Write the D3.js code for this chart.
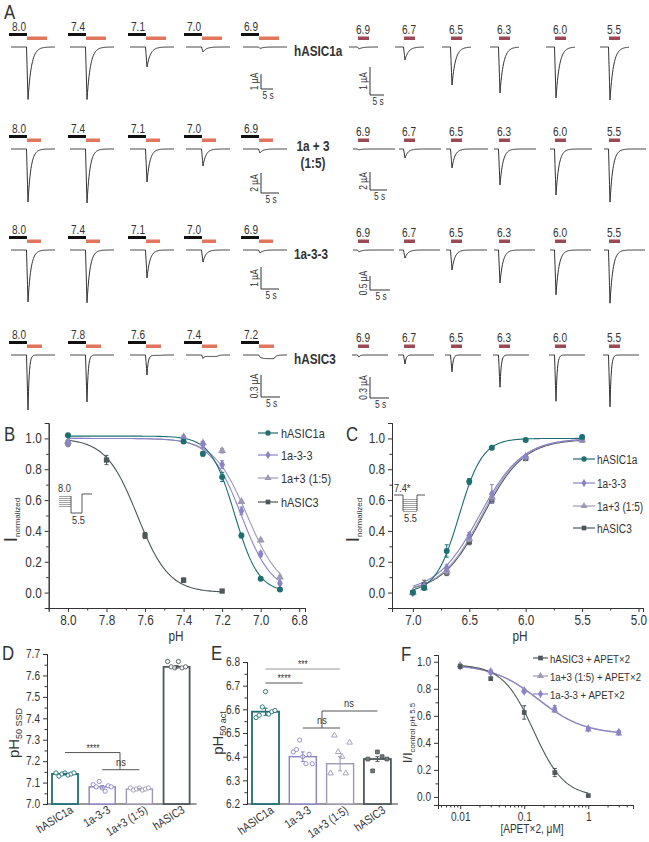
<!DOCTYPE html>
<html>
<head>
<meta charset="utf-8">
<script src="https://cdn.jsdelivr.net/npm/d3@7"></script>
<style>
  body { margin: 0; background: #fff; }
  text { font-family: 'Liberation Sans', Arial, sans-serif; fill: #333; }
</style>
</head>
<body>
<svg id="fig" width="649" height="842"></svg>
<script>
// ---------- Panel A: current traces (peak amplitudes in uA) ----------
var rowNames = ["hASIC1a", "1a + 3|(1:5)", "1a-3-3", "hASIC3"];
var leftPH = [
    ["8.0", "7.4", "7.1", "7.0", "6.9"],
    ["8.0", "7.4", "7.1", "7.0", "6.9"],
    ["8.0", "7.4", "7.1", "7.0", "6.9"],
    ["8.0", "7.8", "7.6", "7.4", "7.2"]
];
var rightPH = ["6.9", "6.7", "6.5", "6.3", "6.0", "5.5"];
var leftPeaks = [
    [3.5, 3.5, 1.33, 0.33, 0.1],
    [5.3, 5.4, 3.3, 1.7, 0.4],
    [2.36, 2.4, 1.27, 0.55, 0.14],
    [0.75, 0.64, 0.27, 0.04, 0.01]
];
var leftSustained = [
    [0, 0, 0, 0, 0],
    [0, 0, 0, 0, 0],
    [0, 0, 0, 0, 0],
    [0, 0, 0.005, 0.02, 0.05]
];
var rightPeaks = [
    [0.07, 0.46, 1.36, 1.64, 1.82, 1.89],
    [0.1, 1.0, 2.1, 4.0, 5.1, 5.9],
    [0.07, 0.29, 0.71, 1.18, 1.6, 1.9],
    [0.03, 0.13, 0.24, 0.46, 0.66, 0.74]
];
var leftScaleVal = [1, 2, 1, 0.3];
var rightScaleVal = [1, 2, 0.5, 0.3];
var leftScaleText = ["1 µA", "2 µA", "1 µA", "0.3 µA"];
var rightScaleText = ["1 µA", "2 µA", "0.5 µA", "0.3 µA"];

// ---------- Panel B: steady-state desensitization ----------
var phB = [8.0, 7.4, 7.3, 7.2, 7.1, 7.0, 6.9];
var phB3 = [8.0, 7.8, 7.6, 7.4, 7.2];
var ssd1a = [1.02, 0.98, 0.90, 0.75, 0.37, 0.09, 0.02];
var ssd133 = [0.97, 1.00, 0.96, 0.83, 0.53, 0.25, 0.06];
var ssd13 = [0.98, 1.01, 0.97, 0.92, 0.59, 0.34, 0.10];
var ssd3 = [0.97, 0.86, 0.37, 0.08, 0.01];
var ssdErr1a = [0.01, 0.01, 0.015, 0.03, 0.015, 0.01, 0.01];
var ssdErr133 = [0.01, 0.01, 0.02, 0.025, 0.025, 0.015, 0.01];
var ssdErr13 = [0.01, 0.01, 0.01, 0.015, 0.01, 0.01, 0.01];
var ssdErr3 = [0.02, 0.03, 0.02, 0.015, 0.01];
// fit parameters: [top, pH50, nH]
var ssdFit = { "hASIC1a": [1.015, 7.135, 7], "1a-3-3": [1.0, 7.10, 5.5], "1a+3 (1:5)": [1.0, 7.07, 5], "hASIC3": [1.0, 7.64, 5.3] };

// ---------- Panel C: activation ----------
var phC = [7.0, 6.9, 6.7, 6.5, 6.3, 6.0, 5.5];
var act1a = [0.0, 0.03, 0.27, 0.72, 0.94, 0.99, 1.01];
var act133 = [0.0, 0.04, 0.16, 0.37, 0.64, 0.88, 1.0];
var act13 = [0.0, 0.03, 0.14, 0.35, 0.62, 0.88, 0.99];
var act3 = [0.0, 0.05, 0.13, 0.33, 0.60, 0.87, 0.99];
var actErr1a = [0.005, 0.01, 0.04, 0.02, 0.01, 0.005, 0.01];
var actErr133 = [0.005, 0.01, 0.02, 0.02, 0.06, 0.01, 0.01];
var actErr13 = [0.005, 0.01, 0.02, 0.02, 0.02, 0.01, 0.01];
var actErr3 = [0.005, 0.03, 0.02, 0.02, 0.02, 0.01, 0.01];
var actFit = { "hASIC1a": [1.0, 6.59, 4.2], "1a-3-3": [1.0, 6.41, 2.3], "1a+3 (1:5)": [1.0, 6.39, 2.4], "hASIC3": [0.995, 6.38, 2.4] };

// ---------- Panel D / E: pH50 bars ----------
var groups = ["hASIC1a", "1a-3-3", "1a+3 (1:5)", "hASIC3"];
var ssdBars = [7.14, 7.08, 7.07, 7.64];
var ssdSem = [0.003, 0.006, 0.003, 0.006];
var ssdPts = [
    [7.145, 7.130, 7.140, 7.145, 7.135, 7.140, 7.145],
    [7.090, 7.080, 7.105, 7.075, 7.060, 7.085, 7.080],
    [7.075, 7.065, 7.070, 7.075, 7.065, 7.070, 7.075],
    [7.665, 7.640, 7.635, 7.665, 7.635, 7.640]
];
var actBars = [6.59, 6.40, 6.37, 6.39];
var actSem = [0.015, 0.02, 0.03, 0.01];
var actPts = [
    [6.565, 6.575, 6.61, 6.675, 6.58, 6.59, 6.595],
    [6.42, 6.43, 6.47, 6.40, 6.37, 6.41, 6.37],
    [6.33, 6.49, 6.42, 6.40, 6.33, 6.46],
    [6.39, 6.34, 6.42, 6.40, 6.39]
];

// ---------- Panel F: APETx2 inhibition ----------
var concF = [0.01, 0.03, 0.1, 0.3, 1, 3];
var apet3 = [0.965, 0.875, 0.625, 0.18, 0.01];
var apet13 = [0.975, 0.93, 0.79, 0.64, 0.50, 0.47];
var apet133 = [0.965, 0.92, 0.78, 0.655, 0.505, 0.48];
var apetErr3 = [0.01, 0.01, 0.05, 0.03, 0.005];
var apetErr13 = [0.01, 0.01, 0.01, 0.015, 0.01, 0.01];
var apetErr133 = [0.01, 0.01, 0.01, 0.02, 0.01, 0.01];
// [top, bottom, IC50, n]
var apetFit = { "hASIC3": [0.98, 0.0, 0.14, 1.8], "1a+3 (1:5)": [0.985, 0.465, 0.16, 1.2], "1a-3-3": [0.98, 0.46, 0.17, 1.2] };

var colors = { "hASIC1a": "#1f6e72", "1a-3-3": "#8a83c6", "1a+3 (1:5)": "#9e9ab4", "hASIC3": "#4e585b" };
var shapes = { "hASIC1a": d3.symbolCircle, "1a-3-3": d3.symbolDiamond, "1a+3 (1:5)": d3.symbolTriangle, "hASIC3": d3.symbolSquare };

var svg = d3.select("#fig");
var line = d3.line();

function txt(g, x, y, s, size, anchor) {
    return g.append("text").attr("x", x).attr("y", y).attr("font-size", size)
        .attr("text-anchor", anchor || "start").text(s);
}

function styleAxis(g, size) {
    g.select(".domain").attr("stroke", "#333");
    g.selectAll(".tick line").attr("stroke", "#333");
    g.selectAll(".tick text").attr("font-size", size).attr("fill", "#333")
        .attr("font-family", "'Liberation Sans', Arial, sans-serif");
}

function marker(g, name, x, y, size) {
    g.append("path").attr("d", d3.symbol().type(shapes[name]).size(size || 28)())
        .attr("transform", "translate(" + x + "," + y + ")")
        .attr("fill", colors[name]);
}

function errBar(g, x, y0, y1, color) {
    g.append("line").attr("x1", x).attr("x2", x).attr("y1", y0).attr("y2", y1).attr("stroke", color);
    g.append("line").attr("x1", x - 2).attr("x2", x + 2).attr("y1", y0).attr("y2", y0).attr("stroke", color);
    g.append("line").attr("x1", x - 2).attr("x2", x + 2).attr("y1", y1).attr("y2", y1).attr("stroke", color);
}

function label(g, x, y, s) {
    txt(g, x, y, s, 20).attr("fill", "#222");
}

// ================= Panel A =================
var aG = svg.append("g");
label(aG, 4, 19, "A");
var rowBase = [47, 149, 250, 355];
var leftBarX = [9, 68, 128, 184, 241];
var rightBarX = [358, 404, 451, 499, 555, 609];
var rightSpan = [[-9, 20], [-5, 37], [-5, 36], [-6, 30]];
var orangeW = [20, 14, 14, 15];
var tauRow = [3.5, 3, 3, 1.2];
var leftBarLen = [15, 20, 22, 22], rightBarLen = [28, 18, 14, 21];
var leftBarBot = [42, 44, 39, 42], rightBarBot = [48, 41, 40, 43];
var leftTimeLen = [12, 18, 18, 19], rightTimeLen = [14, 17, 20, 19];

function tracePath(x0, x1, xp, depth, rise, tau, sus, s0, s1) {
    var pts = [];
    for (var x = x0; x <= x1; x += 0.5) {
        var y = 0;
        if (x >= xp - rise && x < xp) y = depth * (x - xp + rise) / rise;
        else if (x >= xp) y = depth * Math.exp(-(x - xp) / tau);
        if (sus > 0 && x >= s0) {
            var on = 1 - Math.exp(-(x - s0) / 2);
            if (x > s1) on = on * Math.exp(-(x - s1) / 2);
            y += sus * on;
        }
        pts.push([x, y]);
    }
    return pts;
}

function scaleBar(g, x, bottom, len, tlen, utext) {
    g.append("path").attr("d", line([[x, bottom - len], [x, bottom], [x + tlen, bottom]]))
        .attr("fill", "none").attr("stroke", "#333");
    g.append("text").attr("transform", "translate(" + (x - 3) + "," + (bottom - len / 2) + ") rotate(-90)")
        .attr("text-anchor", "middle").attr("font-size", 10).text(utext);
    txt(g, x + tlen / 2 + 1, bottom + 10, "5 s", 10, "middle");
}

rowNames.forEach(function (name, r) {
    var base = rowBase[r];
    var ampL = d3.scaleLinear().domain([0, leftScaleVal[r]]).range([0, leftBarLen[r]]);
    var ampR = d3.scaleLinear().domain([0, rightScaleVal[r]]).range([0, rightBarLen[r]]);

    leftPH[r].forEach(function (ph, c) {
        var bx = leftBarX[c];
        txt(aG, bx + 3, base - 16, ph, 12);
        aG.append("rect").attr("x", bx).attr("y", base - 14).attr("width", 18).attr("height", 3).attr("fill", "#111");
        aG.append("rect").attr("x", bx + 18).attr("y", base - 10.5).attr("width", orangeW[r]).attr("height", 3.5)
            .attr("fill", "#e0775c");
        var pts = tracePath(bx + 2, bx + 46, bx + 19, ampL(leftPeaks[r][c]), 1.5, tauRow[r],
            ampL(leftSustained[r][c]), bx + 18, bx + 18 + orangeW[r]);
        aG.append("path").attr("d", line(pts.map(function (p) { return [p[0], base + p[1]]; })))
            .attr("fill", "none").attr("stroke", "#333").attr("stroke-width", 1);
    });

    rightPH.forEach(function (ph, c) {
        var bx = rightBarX[c];
        txt(aG, bx + 5, base - 13, ph, 12, "middle");
        aG.append("rect").attr("x", bx).attr("y", base - 10.5).attr("width", 11).attr("height", 3.5).attr("fill", "#9b4a55");
        var pts = tracePath(bx + rightSpan[r][0], bx + rightSpan[r][1], bx + 1, ampR(rightPeaks[r][c]), 1.5,
            tauRow[r], 0, 0, 0);
        aG.append("path").attr("d", line(pts.map(function (p) { return [p[0], base + p[1]]; })))
            .attr("fill", "none").attr("stroke", "#333").attr("stroke-width", 1);
    });

    scaleBar(aG, 261, base + leftBarBot[r], leftBarLen[r], leftTimeLen[r], leftScaleText[r]);
    scaleBar(aG, 370, base + rightBarBot[r], rightBarLen[r], rightTimeLen[r], rightScaleText[r]);

    var parts = name.split("|");
    if (parts.length > 1) {
        txt(aG, 313, base + 2, parts[0], 14, "middle").attr("font-weight", "bold").attr("fill", "#222");
        txt(aG, 313, base + 19, parts[1], 14, "middle").attr("font-weight", "bold").attr("fill", "#222");
    } else {
        txt(aG, 294, base + 9, name, 14).attr("font-weight", "bold").attr("fill", "#222");
    }
});

// ================= helpers for curve panels =================
function curvePanel(g, x, y, xMajor, xMinor, yMajor, yMinor, xAxisY, yAxisX, fsize, xfmt) {
    var ax = g.append("g").attr("transform", "translate(0," + xAxisY + ")")
        .call(d3.axisBottom(x).tickValues(xMajor).tickFormat(xfmt).tickSizeOuter(0).tickSize(4).tickPadding(3));
    styleAxis(ax, fsize);
    var axm = g.append("g").attr("transform", "translate(0," + xAxisY + ")")
        .call(d3.axisBottom(x).tickValues(xMinor).tickFormat("").tickSizeOuter(0).tickSize(2.5));
    styleAxis(axm, fsize);
    var ay = g.append("g").attr("transform", "translate(" + yAxisX + ",0)")
        .call(d3.axisLeft(y).tickValues(yMajor).tickFormat(d3.format(".1f")).tickSizeOuter(0).tickSize(4).tickPadding(3));
    styleAxis(ay, fsize);
    var aym = g.append("g").attr("transform", "translate(" + yAxisX + ",0)")
        .call(d3.axisLeft(y).tickValues(yMinor).tickFormat("").tickSizeOuter(0).tickSize(2.5));
    styleAxis(aym, fsize);
}

function legendRow(g, x0, x1, tx, yy, name, text, size) {
    g.append("line").attr("x1", x0).attr("x2", x1).attr("y1", yy).attr("y2", yy)
        .attr("stroke", colors[name]).attr("stroke-width", 1.2);
    marker(g, name, (x0 + x1) / 2, yy, 22);
    txt(g, tx, yy + 4.5, text, size);
}

function yTitle(g, x, y, main, sub, mainSize, subSize) {
    var t = g.append("text").attr("transform", "translate(" + x + "," + y + ") rotate(-90)")
        .attr("text-anchor", "middle");
    t.append("tspan").attr("font-size", mainSize).text(main);
    t.append("tspan").attr("font-size", subSize).attr("dy", 3).text(sub);
}

function stairs(g, x0, x1, y0, n, gap) {
    d3.range(n).forEach(function (i) {
        g.append("line").attr("x1", x0).attr("x2", x1).attr("y1", y0 + gap * i + 0.5).attr("y2", y0 + gap * i + 0.5)
            .attr("stroke", "#666").attr("stroke-width", 0.6);
    });
}

// ================= Panel B =================
var bG = svg.append("g");
label(bG, 4, 441, "B");
var xB = d3.scaleLinear().domain([8.1, 6.77]).range([48.7, 305]);
var yB = d3.scaleLinear().domain([-0.1, 1.1]).range([608, 423]);
curvePanel(bG, xB, yB, [8.0, 7.8, 7.6, 7.4, 7.2, 7.0, 6.8], [7.9, 7.7, 7.5, 7.3, 7.1, 6.9],
    [0, 0.2, 0.4, 0.6, 0.8, 1.0], [-0.1, 0.1, 0.3, 0.5, 0.7, 0.9, 1.1], 608, 48.7, 14, d3.format(".1f"));
txt(bG, 176, 641, "pH", 14, "middle");
yTitle(bG, 17, 520, "I", "normalized", 19, 8);

var bSeries = [
    ["hASIC3", phB3, ssd3, ssdErr3],
    ["1a+3 (1:5)", phB, ssd13, ssdErr13],
    ["1a-3-3", phB, ssd133, ssdErr133],
    ["hASIC1a", phB, ssd1a, ssdErr1a]
];
bSeries.forEach(function (s) {
    var p = ssdFit[s[0]];
    var xs = d3.range(d3.max(s[1]), d3.min(s[1]) - 0.001, -0.01);
    var pts = xs.map(function (ph) { return [xB(ph), yB(p[0] / (1 + Math.pow(10, p[2] * (p[1] - ph))))]; });
    bG.append("path").attr("d", line(pts)).attr("fill", "none").attr("stroke", colors[s[0]]).attr("stroke-width", 1.1);
});
bSeries.forEach(function (s) {
    s[1].forEach(function (ph, i) {
        errBar(bG, xB(ph), yB(s[2][i] + s[3][i]), yB(s[2][i] - s[3][i]), colors[s[0]]);
        marker(bG, s[0], xB(ph), yB(s[2][i]));
    });
});
legendRow(bG, 258, 278, 281, 433, "hASIC1a", "hASIC1a", 13);
legendRow(bG, 258, 278, 281, 455, "1a-3-3", "1a-3-3", 13);
legendRow(bG, 258, 278, 281, 478, "1a+3 (1:5)", "1a+3 (1:5)", 13);
legendRow(bG, 258, 278, 281, 502, "hASIC3", "hASIC3", 13);

// inset protocol B
txt(bG, 58, 492, "8.0", 11);
stairs(bG, 59, 71, 496, 6, 2);
bG.append("path").attr("d", line([[71, 496], [71, 513], [82, 513], [82, 494], [92, 494]]))
    .attr("fill", "none").attr("stroke", "#444").attr("stroke-width", 0.9);
txt(bG, 72, 524, "5.5", 11);

// ================= Panel C =================
var cG = svg.append("g");
label(cG, 346, 441, "C");
var xC = d3.scaleLinear().domain([7.185, 4.96]).range([392, 643]);
var yC = d3.scaleLinear().domain([-0.1, 1.1]).range([608, 423]);
curvePanel(cG, xC, yC, [7.0, 6.5, 6.0, 5.5, 5.0], [6.75, 6.25, 5.75, 5.25],
    [0, 0.2, 0.4, 0.6, 0.8, 1.0], [-0.1, 0.1, 0.3, 0.5, 0.7, 0.9, 1.1], 608, 392, 14, d3.format(".1f"));
txt(cG, 520, 641, "pH", 14, "middle");
yTitle(cG, 359, 520, "I", "normalized", 19, 8);

var cSeries = [
    ["hASIC3", act3, actErr3],
    ["1a+3 (1:5)", act13, actErr13],
    ["1a-3-3", act133, actErr133],
    ["hASIC1a", act1a, actErr1a]
];
cSeries.forEach(function (s) {
    var p = actFit[s[0]];
    var xs = d3.range(7.0, 5.499, -0.01);
    var pts = xs.map(function (ph) { return [xC(ph), yC(p[0] / (1 + Math.pow(10, p[2] * (ph - p[1]))))]; });
    cG.append("path").attr("d", line(pts)).attr("fill", "none").attr("stroke", colors[s[0]]).attr("stroke-width", 1.1);
});
cSeries.forEach(function (s) {
    phC.forEach(function (ph, i) {
        errBar(cG, xC(ph), yC(s[1][i] + s[2][i]), yC(s[1][i] - s[2][i]), colors[s[0]]);
        marker(cG, s[0], xC(ph), yC(s[1][i]));
    });
});
legendRow(cG, 573, 595, 597, 459, "hASIC1a", "hASIC1a", 12);
legendRow(cG, 573, 595, 597, 483, "1a-3-3", "1a-3-3", 12);
legendRow(cG, 573, 595, 597, 506, "1a+3 (1:5)", "1a+3 (1:5)", 12);
legendRow(cG, 573, 595, 597, 528, "hASIC3", "hASIC3", 12);

// inset protocol C
txt(cG, 394, 492, "7.4*", 11);
stairs(cG, 403, 417, 499, 7, 2);
cG.append("path").attr("d", line([[394, 495], [403, 495], [403, 511]]))
    .attr("fill", "none").attr("stroke", "#444").attr("stroke-width", 0.9);
cG.append("path").attr("d", line([[417, 511], [417, 495], [425, 495]]))
    .attr("fill", "none").attr("stroke", "#444").attr("stroke-width", 0.9);
txt(cG, 404, 522, "5.5", 11);

// ================= bar panels D / E =================
function barPanel(g, x, y, yMajor, yMinor, bars, sem, pts, yAxisX, rot, dotShapes) {
    var ay = g.append("g").attr("transform", "translate(" + yAxisX + ",0)")
        .call(d3.axisLeft(y).tickValues(yMajor).tickFormat(d3.format(".1f")).tickSizeOuter(0).tickSize(4).tickPadding(3));
    styleAxis(ay, 12);
    var aym = g.append("g").attr("transform", "translate(" + yAxisX + ",0)")
        .call(d3.axisLeft(y).tickValues(yMinor).tickFormat("").tickSizeOuter(0).tickSize(2.5));
    styleAxis(aym, 12);
    var ax = g.append("g").attr("transform", "translate(0," + y.range()[0] + ")")
        .call(d3.axisBottom(x).tickSize(0).tickFormat("").tickSizeOuter(0));
    ax.select(".domain").attr("stroke", "#333");
    ax.select(".domain").attr("d", "M" + yAxisX + ",0H" + (x.range()[1] + 2));

    groups.forEach(function (name, i) {
        var bx = x(name), bw = x.bandwidth();
        var c = colors[name];
        g.append("rect").attr("x", bx).attr("y", y(bars[i])).attr("width", bw)
            .attr("height", y.range()[0] - y(bars[i])).attr("fill", "#fff")
            .attr("stroke", c).attr("stroke-width", name === "hASIC1a" || name === "hASIC3" ? 1.8 : 1.4);
        var n = pts[i].length;
        var sym = dotShapes[i];
        pts[i].forEach(function (v, j) {
            var px = bx + 4 + (bw - 8) * j / (n - 1);
            g.append("path").attr("d", d3.symbol().type(sym[0]).size(14)())
                .attr("transform", "translate(" + px + "," + y(v) + ")")
                .attr("fill", sym[1] ? "#777" : "#fff").attr("stroke", c).attr("stroke-width", 0.9);
        });
        errBar(g, bx + bw / 2, y(bars[i] + sem[i]), y(bars[i] - sem[i]), c);
        g.append("text").attr("transform", "translate(" + (bx + bw / 2 + 9) + "," + (y.range()[0] + 8) + ") rotate(" + rot + ")")
            .attr("text-anchor", "end").attr("font-size", 12).text(name);
    });
}

// D
var dG = svg.append("g");
label(dG, 2, 660, "D");
var xD = d3.scaleBand().domain(groups).range([47, 194.6]).paddingInner(0.3).paddingOuter(0.134);
var yD = d3.scaleLinear().domain([7.0, 7.7]).range([804, 654]);
barPanel(dG, xD, yD, d3.range(7.0, 7.71, 0.1), d3.range(7.05, 7.7, 0.1), ssdBars, ssdSem, ssdPts, 47, -32,
    [[d3.symbolCircle, false], [d3.symbolCircle, false], [d3.symbolCircle, false], [d3.symbolCircle, false]]);
yTitle(dG, 19, 733, "pH", "50 SSD", 15, 9);
dG.append("path").attr("d", line([[xD("hASIC1a") + 13, yD(7.24)], [120, yD(7.24)], [120, yD(7.16)]]))
    .attr("fill", "none").attr("stroke", "#555");
dG.append("line").attr("x1", xD("1a-3-3") + 13).attr("x2", xD("1a+3 (1:5)") + 13)
    .attr("y1", yD(7.16)).attr("y2", yD(7.16)).attr("stroke", "#555");
txt(dG, 93, yD(7.24) - 1, "****", 10, "middle");
txt(dG, 121, yD(7.16) - 4, "ns", 11, "middle");

// E
var eG = svg.append("g");
label(eG, 211, 660, "E");
var xE = d3.scaleBand().domain(groups).range([247, 395.9]).paddingInner(0.276).paddingOuter(0.134);
var yE = d3.scaleLinear().domain([6.2, 6.8]).range([804, 662]);
barPanel(eG, xE, yE, d3.range(6.2, 6.81, 0.1), d3.range(6.25, 6.8, 0.1), actBars, actSem, actPts, 247, -35,
    [[d3.symbolCircle, false], [d3.symbolCircle, false], [d3.symbolTriangle, false], [d3.symbolSquare, true]]);
yTitle(eG, 223, 733, "pH", "50 act", 15, 9);
var cx = function (n) { return xE(n) + xE.bandwidth() / 2; };
eG.append("line").attr("x1", cx("hASIC1a")).attr("x2", cx("1a+3 (1:5)")).attr("y1", 669).attr("y2", 669).attr("stroke", "#999");
txt(eG, (cx("hASIC1a") + cx("1a+3 (1:5)")) / 2, 668, "***", 10, "middle").attr("fill", "#888");
eG.append("line").attr("x1", cx("hASIC1a")).attr("x2", cx("1a-3-3")).attr("y1", 683).attr("y2", 683).attr("stroke", "#555");
txt(eG, (cx("hASIC1a") + cx("1a-3-3")) / 2, 682, "****", 10, "middle");
eG.append("line").attr("x1", cx("1a-3-3")).attr("x2", cx("1a+3 (1:5)")).attr("y1", 728).attr("y2", 728).attr("stroke", "#555");
eG.append("path").attr("d", line([[322, 728], [322, 711], [cx("hASIC3"), 711]])).attr("fill", "none").attr("stroke", "#555");
txt(eG, 322, 724, "ns", 11, "middle");
txt(eG, 349, 707, "ns", 11, "middle");

// ================= Panel F =================
var fG = svg.append("g");
label(fG, 401, 661, "F");
var xF = d3.scaleLog().domain([0.0045, 5]).range([438, 633]);
var yF = d3.scaleLinear().domain([-0.06, 1.05]).range([805, 655]);
var fMinor = [];
[0.001, 0.01, 0.1, 1].forEach(function (d) {
    d3.range(2, 10).forEach(function (k) { if (k * d >= 0.0045 && k * d <= 5) fMinor.push(k * d); });
});
curvePanel(fG, xF, yF, [0.01, 0.1, 1], fMinor, [0, 0.2, 0.4, 0.6, 0.8, 1.0], [0.1, 0.3, 0.5, 0.7, 0.9],
    805, 438, 12, function (d) { return d < 1 ? String(d) : "1"; });
txt(fG, 532, 833, "[APET×2, μM]", 12, "middle");
yTitle(fG, 412, 733, "I/I", "control pH 5.5", 13, 8);

var fSeries = [
    ["1a+3 (1:5)", apet13, apetErr13, 3],
    ["1a-3-3", apet133, apetErr133, 3],
    ["hASIC3", apet3, apetErr3, 1]
];
fSeries.forEach(function (s) {
    var p = apetFit[s[0]];
    var xs = d3.range(-2, Math.log10(s[3]) + 0.001, 0.02).map(function (e) { return Math.pow(10, e); });
    var pts = xs.map(function (c) { return [xF(c), yF(p[1] + (p[0] - p[1]) / (1 + Math.pow(c / p[2], p[3])))]; });
    fG.append("path").attr("d", line(pts)).attr("fill", "none").attr("stroke", colors[s[0]]).attr("stroke-width", 1.1);
});
fSeries.forEach(function (s) {
    s[1].forEach(function (v, i) {
        errBar(fG, xF(concF[i]), yF(v + s[2][i]), yF(v - s[2][i]), colors[s[0]]);
        marker(fG, s[0], xF(concF[i]), yF(v), 22);
    });
});
legendRow(fG, 533, 548, 550, 658, "hASIC3", "hASIC3 + APET×2", 11.5);
legendRow(fG, 533, 548, 550, 676, "1a+3 (1:5)", "1a+3 (1:5) + APET×2", 11.5);
legendRow(fG, 533, 548, 550, 694, "1a-3-3", "1a-3-3 + APET×2", 11.5);

// narrow the glyphs a bit, the figure is set in a condensed face
svg.selectAll("text").each(function () {
    if (this.querySelector("tspan")) return;
    var L = this.getComputedTextLength();
    if (L > 0) d3.select(this).attr("textLength", L * 0.84).attr("lengthAdjust", "spacingAndGlyphs");
});
</script>
</body>
</html>
